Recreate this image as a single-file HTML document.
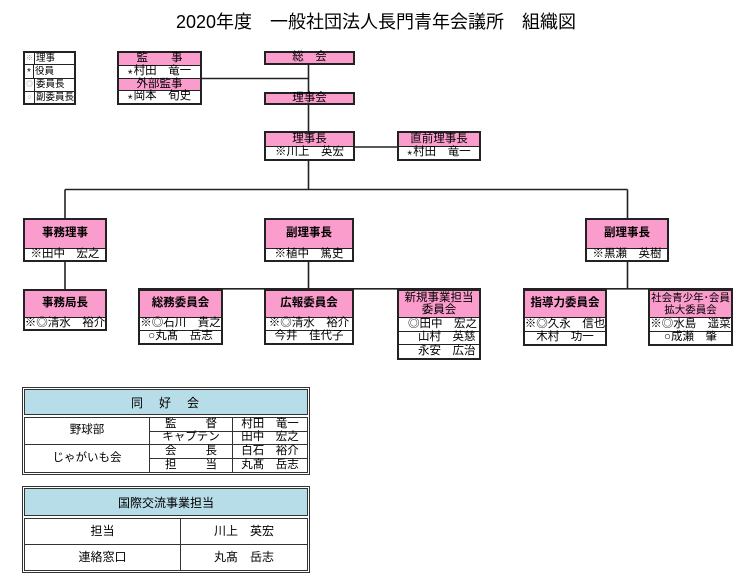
<!DOCTYPE html>
<html><head><meta charset="utf-8">
<style>
html,body{margin:0;padding:0;background:#fff;}
body{width:752px;height:579px;position:relative;overflow:hidden;font-family:"Liberation Sans","Noto Sans CJK JP",sans-serif;color:#000;}
svg{position:absolute;left:0;top:0;}
.t{position:absolute;left:0;width:752px;top:11px;height:22px;line-height:22px;text-align:center;font-size:18px;}
.b{position:absolute;border:2px solid #222;box-sizing:border-box;display:flex;flex-direction:column;background:#fff;z-index:2;}
.b>div{display:flex;align-items:center;justify-content:center;white-space:nowrap;font-size:11.5px;line-height:1;overflow:visible;flex:1;min-height:0;}
.b>div+div{border-top:1px solid #222;}
.b>div.m{display:block;text-align:center;line-height:12.5px;padding-top:0.5px;box-sizing:border-box;}
.p{background:#fa9ccc;}
.hb{font-weight:bold;}
.a{font-family:"Liberation Sans",sans-serif;font-size:12px;position:relative;top:2px;margin-right:1px;}
.lg{position:absolute;left:23px;top:51px;width:53px;height:54px;border:2px solid #222;box-sizing:border-box;display:flex;flex-direction:column;z-index:2;}
.lg>div{flex:1;display:flex;font-size:9.5px;line-height:1;white-space:nowrap;}
.lg>div+div{border-top:1px solid #222;}
.lg .s{flex:0 0 9px;border-right:1px solid #222;display:flex;align-items:center;justify-content:center;font-size:7px;color:#999;}
.lg .x{display:flex;align-items:center;padding-left:1px;}
.o{position:absolute;border:1px solid #333;box-sizing:border-box;background:#fff;}
.h{position:absolute;border:1px solid #333;box-sizing:border-box;background:#b7dde8;display:flex;align-items:center;justify-content:center;font-size:12px;}
.g{position:absolute;border:1px solid #333;box-sizing:border-box;display:grid;}
.g>div{display:flex;align-items:center;justify-content:center;font-size:11.5px;line-height:1;white-space:nowrap;}
</style></head><body>
<div class="t">2020年度　一般社団法人長門青年会議所　組織図</div>

<svg width="752" height="579" viewBox="0 0 752 579">
<g stroke="#222" stroke-width="1.6" fill="none">
<path d="M202 78.5H308.5"/>
<path d="M308.5 58V190"/>
<path d="M355 147H397"/>
<path d="M65 189.5H627.5"/>
<path d="M65 189.5V218M627.5 189.5V218"/>
<path d="M65 262V289M308.5 262V289M627.5 262V289"/>
<path d="M138 288.8H481M523 288.8H733"/>
</g>
</svg>

<div class="lg">
<div><span class="s">※</span><span class="x">理事</span></div>
<div><span class="s" style="color:#000;font-size:10px;padding-top:3px;box-sizing:border-box;">*</span><span class="x">役員</span></div>
<div><span class="s">◎</span><span class="x">委員長</span></div>
<div><span class="s">○</span><span class="x">副委員長</span></div>
</div>

<div class="b" style="left:117px;top:51px;width:85px;height:54px;">
<div class="p">監　　事</div>
<div><span class="a">*</span>村田　竜一</div>
<div class="p">外部監事</div>
<div><span class="a">*</span>岡本　旬史</div>
</div>

<div class="b" style="left:264px;top:51px;width:91px;height:14px;"><div class="p">総　会</div></div>
<div class="b" style="left:264px;top:92px;width:91px;height:13px;"><div class="p">理事会</div></div>

<div class="b" style="left:264px;top:131px;width:91px;height:30px;">
<div class="p">理事長</div><div>※川上　英宏</div></div>
<div class="b" style="left:397px;top:131px;width:84px;height:30px;">
<div class="p">直前理事長</div><div><span class="a">*</span>村田　竜一</div></div>

<div class="b" style="left:23px;top:218px;width:84px;height:44px;">
<div class="p hb" style="flex:0 0 28px">事務理事</div><div>※田中　宏之</div></div>
<div class="b" style="left:264px;top:218px;width:90px;height:44px;">
<div class="p hb" style="flex:0 0 28px">副理事長</div><div>※植中　篤史</div></div>
<div class="b" style="left:585px;top:218px;width:84px;height:44px;">
<div class="p hb" style="flex:0 0 28px">副理事長</div><div>※黒瀬　英樹</div></div>

<div class="b" style="left:23px;top:289px;width:84px;height:42px;">
<div class="p hb" style="flex:0 0 26px">事務局長</div><div>※◎清水　裕介</div></div>

<div class="b" style="left:138px;top:289px;width:85px;height:56px;">
<div class="p hb" style="flex:0 0 26px">総務委員会</div><div>※◎石川　貴之</div><div>○丸髙　岳志</div></div>

<div class="b" style="left:264px;top:289px;width:90px;height:56px;">
<div class="p hb" style="flex:0 0 26px">広報委員会</div><div>※◎清水　裕介</div><div>今井　佳代子</div></div>

<div class="b" style="left:397px;top:289px;width:84px;height:71px;">
<div class="p m" style="flex:0 0 26px;">新規事業担当<br>委員会</div>
<div style="justify-content:flex-start;padding-left:9px;">◎田中　宏之</div>
<div style="justify-content:flex-start;padding-left:19px;">山村　英慈</div>
<div style="justify-content:flex-start;padding-left:19px;">永安　広治</div>
</div>

<div class="b" style="left:523px;top:289px;width:84px;height:57px;">
<div class="p hb" style="flex:0 0 26px">指導力委員会</div><div>※◎久永　信也</div><div>木村　功一</div></div>

<div class="b" style="left:648px;top:289px;width:85px;height:57px;">
<div class="p m" style="flex:0 0 26px;font-size:10.5px;">社会青少年･会員<br>拡大委員会</div>
<div>※◎水島　遥菜</div><div>○成瀬　肇</div></div>

<!-- 同好会 -->
<div class="o" style="left:22px;top:387px;width:288px;height:88px;"></div>
<div class="h" style="left:24px;top:389px;width:284px;height:26px;letter-spacing:2px;">同　好　会</div>
<div class="g" style="left:24px;top:417px;width:284px;height:56px;grid-template-columns:125px 83px 1fr;grid-template-rows:repeat(4,1fr);">
<div style="grid-column:1;grid-row:1/3;border-right:1px solid #333;border-bottom:1px solid #333;">野球部</div>
<div style="grid-column:2;grid-row:1;border-right:1px solid #333;border-bottom:1px solid #333;justify-content:space-between;padding:0 15px;">監<span>督</span></div>
<div style="grid-column:3;grid-row:1;border-bottom:1px solid #333;">村田　竜一</div>
<div style="grid-column:2;grid-row:2;border-right:1px solid #333;border-bottom:1px solid #333;">キャプテン</div>
<div style="grid-column:3;grid-row:2;border-bottom:1px solid #333;">田中　宏之</div>
<div style="grid-column:1;grid-row:3/5;border-right:1px solid #333;">じゃがいも会</div>
<div style="grid-column:2;grid-row:3;border-right:1px solid #333;border-bottom:1px solid #333;justify-content:space-between;padding:0 15px;">会<span>長</span></div>
<div style="grid-column:3;grid-row:3;border-bottom:1px solid #333;">白石　裕介</div>
<div style="grid-column:2;grid-row:4;border-right:1px solid #333;justify-content:space-between;padding:0 15px;">担<span>当</span></div>
<div style="grid-column:3;grid-row:4;">丸髙　岳志</div>
</div>

<!-- 国際交流事業担当 -->
<div class="o" style="left:22px;top:486px;width:288px;height:87px;"></div>
<div class="h" style="left:24px;top:488px;width:284px;height:28px;">国際交流事業担当</div>
<div class="g" style="left:24px;top:518px;width:284px;height:53px;grid-template-columns:156px 1fr;grid-template-rows:1fr 1fr;font-size:12px;">
<div style="border-right:1px solid #333;border-bottom:1px solid #333;font-size:12px;">担当</div>
<div style="border-bottom:1px solid #333;font-size:12px;">川上　英宏</div>
<div style="border-right:1px solid #333;font-size:12px;">連絡窓口</div>
<div style="font-size:12px;">丸髙　岳志</div>
</div>

</body></html>
